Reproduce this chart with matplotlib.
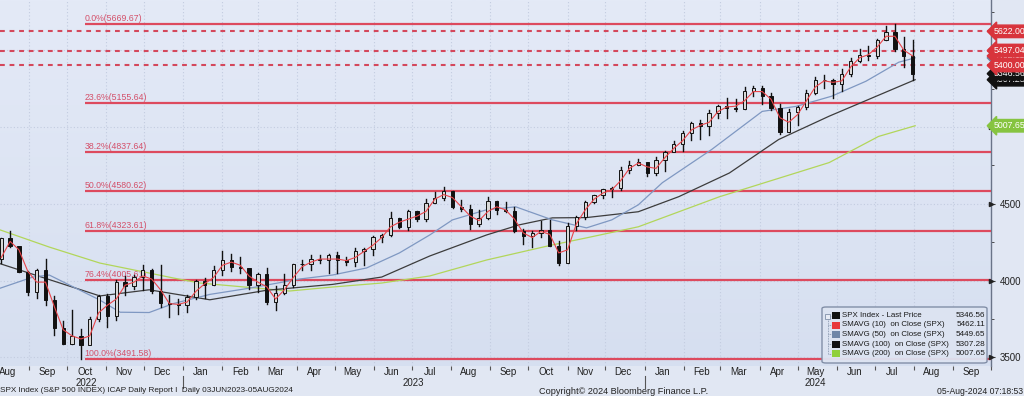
import matplotlib
matplotlib.use('Agg')
import matplotlib.pyplot as plt
import matplotlib.dates as mdates
import matplotlib.transforms as mtransforms
from matplotlib.patches import Rectangle, FancyBboxPatch
from matplotlib.colors import LinearSegmentedColormap
import numpy as np
import pandas as pd

plt.rcParams['font.family'] = ['Liberation Sans', 'DejaVu Sans']

# ---------------- data (weekly bars) ----------------
first_week_mid = '2022-08-10'
highs = [4280, 4325, 4203, 4062, 4076, 4140, 3899, 3736, 3806, 3685, 3762, 3906, 3911, 4001, 4029, 4034, 4100, 4076, 4101, 3905, 3878,
         3907, 4003, 4015, 4095, 4195, 4176, 4156, 4078, 4049, 4079, 3964, 4040, 4110, 4133, 4164, 4169, 4170, 4185, 4154, 4213, 4212,
         4290, 4300, 4448, 4408, 4458, 4456, 4528, 4578, 4607, 4584, 4527, 4490, 4458, 4541, 4520, 4511, 4480, 4338, 4320, 4386, 4394,
         4255, 4374, 4418, 4521, 4560, 4595, 4610, 4738, 4778, 4793,
         4754, 4802, 4842, 4907, 4975, 5030, 5048, 5111, 5141, 5189, 5179, 5261, 5265, 5264, 5222, 5151, 5114, 5139, 5239, 5325, 5341,
         5315, 5375, 5448, 5506, 5524, 5570, 5655, 5670, 5585, 5566]
lows = [4112, 4218, 4057, 3907, 3887, 3838, 3647, 3585, 3584, 3492, 3627, 3740, 3698, 3745, 3906, 3946, 3938, 3918, 3828, 3764, 3784,
        3794, 3877, 3885, 3974, 4037, 4061, 4047, 3944, 3928, 3847, 3809, 3915, 3960, 4069, 4072, 4113, 4049, 4048, 4099, 4098, 4103,
        4166, 4253, 4287, 4341, 4328, 4385, 4385, 4505, 4527, 4474, 4450, 4335, 4356, 4403, 4430, 4448, 4317, 4238, 4217, 4283, 4223,
        4104, 4113, 4329, 4402, 4504, 4538, 4546, 4592, 4700, 4751,
        4682, 4689, 4714, 4845, 4842, 4918, 4920, 4946, 5058, 5057, 5104, 5118, 5203, 5146, 5107, 4953, 4969, 5011, 5114, 5211, 5256,
        5191, 5234, 5331, 5420, 5433, 5448, 5566, 5497, 5390, 5306]
closes = [4280, 4228, 4058, 3924, 4067, 3873, 3693, 3586, 3640, 3583, 3753, 3901, 3771, 3993, 3965, 4026, 4072, 3934, 3852, 3845, 3840,
          3895, 3999, 3973, 4071, 4136, 4090, 4079, 3970, 4046, 3862, 3917, 3971, 4109, 4105, 4138, 4133, 4169, 4136, 4124, 4192, 4205,
          4282, 4299, 4410, 4348, 4450, 4399, 4505, 4536, 4582, 4478, 4464, 4370, 4406, 4516, 4457, 4450, 4320, 4288, 4309, 4328, 4224,
          4117, 4358, 4415, 4514, 4559, 4595, 4604, 4719, 4755, 4770,
          4697, 4784, 4840, 4891, 4959, 5027, 5006, 5089, 5137, 5124, 5117, 5234, 5254, 5204, 5123, 4967, 5100, 5128, 5223, 5303, 5305,
          5278, 5347, 5431, 5465, 5460, 5567, 5615, 5505, 5459, 5347]
first_open = 4140
sma10 = [4150, 4255, 4200, 4060, 3990, 3990, 3830, 3680, 3640, 3620, 3640, 3790, 3840, 3880, 3970, 3990, 4030, 4010, 3940, 3850, 3845,
         3860, 3930, 3980, 4020, 4100, 4120, 4100, 4030, 3990, 3960, 3880, 3940, 4020, 4090, 4120, 4140, 4140, 4140, 4130, 4150, 4190,
         4230, 4280, 4350, 4380, 4400, 4420, 4450, 4530, 4560, 4540, 4480, 4420, 4390, 4450, 4480, 4460, 4400, 4310, 4280, 4320, 4300,
         4180, 4200, 4370, 4460, 4530, 4570, 4590, 4650, 4730, 4765,
         4740, 4730, 4800, 4860, 4910, 4980, 5010, 5030, 5100, 5130, 5135, 5170, 5230, 5230, 5180, 5060, 5030, 5080, 5170, 5260, 5300,
         5290, 5300, 5390, 5450, 5470, 5520, 5590, 5590, 5500, 5462]

sma50_dates = ['2022-08-09', '2022-09-04', '2022-09-17', '2022-10-27', '2022-11-12', '2022-12-05', '2022-12-24', '2023-01-22',
               '2023-02-22', '2023-04-03', '2023-04-29', '2023-05-26', '2023-06-21', '2023-07-15', '2023-08-02', '2023-08-29',
               '2023-09-21', '2023-10-20', '2023-11-16', '2023-12-06', '2023-12-27', '2024-01-15', '2024-02-23', '2024-04-03',
               '2024-04-30', '2024-05-28', '2024-06-24', '2024-07-20', '2024-08-02']
sma50_vals = [3950, 4023, 4036, 3873, 3794, 3792, 3850, 3910, 3950, 4010, 4036, 4082, 4180, 4297, 4395, 4461, 4480, 4395, 4343,
              4395, 4493, 4637, 4853, 5101, 5134, 5200, 5297, 5421, 5449.65]

sma100_dates = ['2022-08-09', '2022-10-27', '2022-12-05', '2023-01-22', '2023-03-08', '2023-04-29', '2023-06-07', '2023-07-15',
                '2023-08-29', '2023-09-24', '2023-10-20', '2023-11-16', '2023-12-27', '2024-01-28', '2024-03-08', '2024-04-16',
                '2024-05-26', '2024-08-02']
sma100_vals = [4110, 3900, 3940, 3875, 3937, 3975, 4023, 4160, 4297, 4363, 4408, 4410, 4448, 4546, 4700, 4918, 5070, 5307.28]

sma200_dates = ['2022-08-09', '2022-09-17', '2022-10-27', '2022-12-05', '2022-12-24', '2023-01-14', '2023-03-26', '2023-04-29',
                '2023-06-07', '2023-07-15', '2023-08-29', '2023-10-20', '2023-11-16', '2023-12-27', '2024-02-29', '2024-05-26',
                '2024-07-04', '2024-08-02']
sma200_vals = [4330, 4218, 4114, 4049, 4017, 3984, 3932, 3958, 3984, 4030, 4134, 4232, 4278, 4350, 4545, 4768, 4938, 5007.65]

fib_pcts = ['0.0%', '23.6%', '38.2%', '50.0%', '61.8%', '76.4%', '100.0%']
fib_levels = [5669.67, 5155.64, 4837.64, 4580.62, 4323.61, 4005.61, 3491.58]
fib_start = '2022-10-15'
dashed_levels = [5622.00, 5497.04, 5400.00]

legend_names = ['SPX Index - Last Price', 'SMAVG (10)  on Close (SPX)', 'SMAVG (50)  on Close (SPX)',
                'SMAVG (100)  on Close (SPX)', 'SMAVG (200)  on Close (SPX)']
legend_values = ['5346.56', '5462.11', '5449.65', '5307.28', '5007.65']
legend_colors = ['#111111', '#e8383c', '#6f86a8', '#111111', '#8fd03a']

y_major = [3500, 4000, 4500, 5000, 5500]
y_labels = ['3500', '4000', '4500', '', '']   # 5000 / 5500 are hidden behind the value tags
month_names = ['Jan', 'Feb', 'Mar', 'Apr', 'May', 'Jun', 'Jul', 'Aug', 'Sep', 'Oct', 'Nov', 'Dec']

# ---------------- figure ----------------
W, H = 1024, 396
fig = plt.figure(figsize=(W / 100, H / 100), dpi=100, facecolor='#e1e7f3')
ax_l, ax_r, ax_t, ax_b = 0, 991, 0, 366
ax = fig.add_axes([ax_l / W, 1 - ax_b / H, (ax_r - ax_l) / W, (ax_b - ax_t) / H])

x0 = pd.Timestamp('2022-08-09')
x1 = pd.Timestamp('2024-10-01')
y0, y1 = 3444, 5826

# gradient background
cmap = LinearSegmentedColormap.from_list('bg', ['#d6dff0', '#e4eaf7'])
grad = np.linspace(0, 1, 256).reshape(-1, 1)
ax.imshow(grad, extent=[mdates.date2num(x0), mdates.date2num(x1), y0, y1], origin='lower',
          aspect='auto', cmap=cmap, zorder=0)
ax.set_xlim(x0, x1)
ax.set_ylim(y0, y1)

for s in ['top', 'left', 'bottom']:
    ax.spines[s].set_visible(False)
ax.spines['right'].set_color('#6a7488')
ax.spines['right'].set_linewidth(1.0)

# month grid + ticks
month_starts = pd.date_range('2022-09-01', '2024-10-01', freq='MS')
for d in month_starts:
    ax.axvline(d, color='#c3cce0', lw=0.8, ls=(0, (1, 2)), zorder=1)
for v in y_major:
    ax.axhline(v, color='#c3cce0', lw=0.8, ls=(0, (1, 2)), zorder=1)
ax.set_xticks(month_starts)
ax.set_xticklabels([])
ax.tick_params(axis='x', length=3, color='#555555', direction='out')

# y axis on the right
ax.yaxis.tick_right()
ax.set_yticks(y_major)
ax.set_yticklabels(y_labels, fontsize=7, color='#222222')
ax.set_yticks(np.arange(3500, 5800, 250), minor=True)
ax.tick_params(axis='y', which='major', length=3, pad=3, color='#333333')
ax.tick_params(axis='y', which='minor', length=2.5, color='#333333')
bt = mtransforms.blended_transform_factory(ax.transAxes, ax.transData)
ax.plot([1.0] * len(y_major), y_major, ls='none', marker='>', ms=3, color='#222222',
        transform=bt, clip_on=False, zorder=5)

# month labels / years
xt = mtransforms.blended_transform_factory(ax.transData, ax.transAxes)
for ms in pd.date_range('2022-08-01', '2024-09-01', freq='MS'):
    mid = ms + pd.Timedelta(days=14)
    if mid < x0:
        mid = x0 + pd.Timedelta(days=6)
    ax.text(mid, -6 / 366, month_names[ms.month - 1], transform=xt, fontsize=7, color='#222222',
            ha='center', va='center', clip_on=False)
year_mid = {'2022': '2022-10-16', '2023': '2023-07-02', '2024': '2024-05-15'}
for yr, d in year_mid.items():
    ax.text(pd.Timestamp(d), -17 / 366, yr, transform=xt, fontsize=7, color='#222222',
            ha='center', va='center', clip_on=False)
for d in ['2023-01-01', '2024-01-01']:
    ax.plot([pd.Timestamp(d)] * 2, [-10 / 366, -22 / 366], transform=xt, color='#555555', lw=0.8, clip_on=False)

# fib lines
fs = pd.Timestamp(fib_start)
for p, lv in zip(fib_pcts, fib_levels):
    ax.plot([fs, x1], [lv, lv], color='#dd4a5e', lw=1.6, zorder=3, solid_capstyle='butt')
    ax.text(fs, lv + 6, f'{p}({lv:.2f})', fontsize=6.3, color='#d4506a', ha='left', va='bottom', zorder=3)
for lv in dashed_levels:
    ax.plot([x0, x1], [lv, lv], color='#d4485c', lw=1.5, ls=(0, (2.3, 2.3)), zorder=3)

# moving averages
weeks = pd.date_range(first_week_mid, periods=len(closes), freq='7D')
ax.plot(pd.to_datetime(sma200_dates), sma200_vals, color='#b2d65a', lw=0.9, zorder=4)
ax.plot(pd.to_datetime(sma100_dates), sma100_vals, color='#3c3c3c', lw=0.9, zorder=4)
ax.plot(pd.to_datetime(sma50_dates), sma50_vals, color='#7f98c2', lw=0.9, zorder=4)

# candles
opens = [first_open] + closes[:-1]
body_w = 2.6
for d, o, h, l, c in zip(weeks, opens, highs, lows, closes):
    dn = mdates.date2num(d)
    ax.plot([dn, dn], [l, h], color='#111111', lw=1.0, zorder=5)
    lo, hi = min(o, c), max(o, c)
    up = c >= o
    ax.add_patch(Rectangle((dn - body_w / 2, lo), body_w, max(hi - lo, 4),
                           facecolor='#d8d8d8' if up else '#111111', edgecolor='#111111', lw=0.7, zorder=6))
ax.plot(weeks, sma10, color='#e8454a', lw=0.8, zorder=7)

# right-side value tags
def tag(val, txt, fc, tc, z):
    ax.text(1.003, val, txt, transform=bt, fontsize=6.3, color=tc, ha='left', va='center',
            bbox=dict(boxstyle='larrow,pad=0.2', fc=fc, ec=fc), clip_on=False, zorder=z)

tag(5307.28, '5307.28', '#111111', 'white', 20)
tag(5449.65, '5449.65', '#6f86a8', 'white', 20)
tag(5462.11, '5462.11', '#d8343c', 'white', 21)
tag(5346.56, '5346.56', '#111111', 'white', 22)
tag(5400.00, '5400.00', '#d8343c', 'white', 23)
tag(5497.04, '5497.04', '#d8343c', 'white', 24)
tag(5622.00, '5622.00', '#d8343c', 'white', 24)
tag(5007.65, '5007.65', '#86c440', 'white', 24)

# legend box (manual, in pixel coords)
def fx(x):
    return x / W
def fy(y):
    return 1 - y / H

fig.patches.append(FancyBboxPatch((fx(822), fy(363)), fx(987) - fx(822), fy(307) - fy(363),
                                  boxstyle='round,pad=0,rounding_size=0.004', transform=fig.transFigure,
                                  fc='#dde4f2', ec='#7d8aa3', lw=1.0, alpha=0.95, zorder=30))
row_y = [315.7, 325.0, 334.3, 344.0, 353.7]
fig.patches.append(Rectangle((fx(825), fy(318.5)), 5 / W, 5 / H, transform=fig.transFigure,
                             fc='#e8ecf5', ec='#8090a8', lw=0.6, zorder=31))
fig.lines.append(plt.Line2D([fx(827.5), fx(827.5)], [fy(319), fy(354)], transform=fig.transFigure,
                            color='#8090a8', lw=0.6, ls=(0, (1, 1)), zorder=31))
for ry, name, val, col in zip(row_y, legend_names, legend_values, legend_colors):
    fig.patches.append(Rectangle((fx(832), fy(ry + 3.5)), 8 / W, 7 / H, transform=fig.transFigure,
                                 fc=col, ec='none', zorder=31))
    fig.lines.append(plt.Line2D([fx(828), fx(832)], [fy(ry), fy(ry)], transform=fig.transFigure,
                                color='#8090a8', lw=0.6, ls=(0, (1, 1)), zorder=31))
    fig.text(fx(842), fy(ry), name, fontsize=5.7, color='#1a1a1a', ha='left', va='center', zorder=32)
    fig.text(fx(985), fy(ry), val, fontsize=5.9, color='#1a1a1a', ha='right', va='center', zorder=32)

# footer
fig.text(fx(0), fy(391), 'SPX Index (S&P 500 INDEX) ICAP Daily Report I  Daily 03JUN2023-05AUG2024',
         fontsize=5.9, color='#222222', ha='left', va='center')
fig.text(fx(539), fy(391), 'Copyright\u00a9 2024 Bloomberg Finance L.P.', fontsize=6.6, color='#222222',
         ha='left', va='center')
fig.text(fx(1023), fy(391), '05-Aug-2024 07:18:53', fontsize=6.2, color='#222222', ha='right', va='center')

fig.savefig('out.png', dpi=100, facecolor=fig.get_facecolor())
